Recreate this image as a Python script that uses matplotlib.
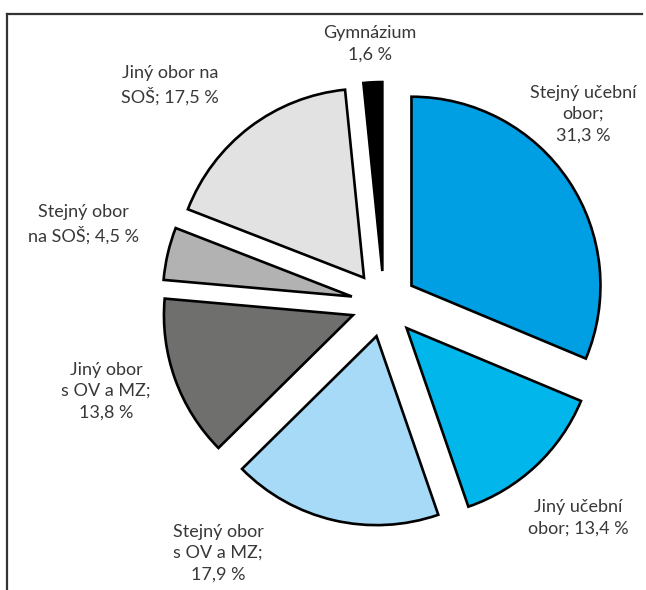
import matplotlib
matplotlib.use("Agg")
import matplotlib.pyplot as plt
from matplotlib.lines import Line2D

categories = ["Stejný učební obor", "Jiný učební obor", "Stejný obor s OV a MZ",
              "Jiný obor s OV a MZ", "Stejný obor na SOŠ", "Jiný obor na SOŠ", "Gymnázium"]
values = [31.3, 13.4, 17.9, 13.8, 4.5, 17.5, 1.6]
label_texts = ["Stejný učební\nobor;\n31,3 %", "Jiný učební\nobor; 13,4 %",
               "Stejný obor\ns OV a MZ;\n17,9 %", "Jiný obor\ns OV a MZ;\n13,8 %",
               "Stejný obor\nna SOŠ; 4,5 %", "Jiný obor na\nSOŠ; 17,5 %", "Gymnázium\n1,6 %"]
colors = ["#009FE3", "#00B6EA", "#A6DAF7", "#6F6F6E", "#B2B2B2", "#E2E2E2", "#000000"]

W, H = 646, 590
fig = plt.figure(figsize=(W / 100, H / 100), dpi=100)
ax = fig.add_axes([0, 0, 1, 1])

cx, cy, R = 384, H - 304, 189
ax.pie(values, colors=colors, startangle=90, counterclock=False,
       center=(cx, cy), radius=R, explode=[33] * len(values),
       wedgeprops=dict(edgecolor="black", linewidth=1.9, joinstyle="miter"))
ax.set_xlim(0, W)
ax.set_ylim(0, H)
ax.set_aspect("equal")
ax.axis("off")

# label positions (pixel centres of the text blocks, from top)
label_pos = [(583, 114), (578, 518), (218, 553), (106, 391), (83, 224), (170, 85), (370, 44)]
for txt, (x, y) in zip(label_texts, label_pos):
    ax.text(x, H - y, txt, ha="center", va="center", fontsize=13,
            family="Lato", fontweight="normal", color="#383838", linespacing=1.42)

# frame (cropped: only top and left visible)
ax.add_line(Line2D([7, 642], [H - 14, H - 14], color="#333333", lw=1.6))
ax.add_line(Line2D([7, 7], [H - 14, 0], color="#333333", lw=1.6))

fig.savefig("out.png", dpi=100)
